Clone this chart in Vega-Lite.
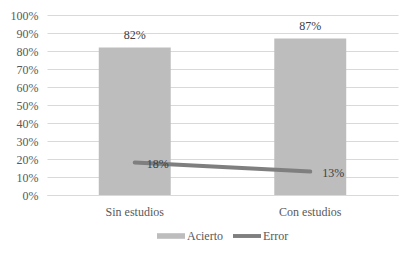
{
  "$schema": "https://vega.github.io/schema/vega-lite/v6.json",
  "width": 351,
  "height": 180,
  "autosize": {"type": "none"},
  "padding": {"left": 47, "top": 15, "right": 15, "bottom": 60},
  "background": "white",
  "data": {
    "values": [
      {"cat": "Sin estudios", "serie": "Acierto", "v": 0.82},
      {"cat": "Con estudios", "serie": "Acierto", "v": 0.87},
      {"cat": "Sin estudios", "serie": "Error", "v": 0.18},
      {"cat": "Con estudios", "serie": "Error", "v": 0.13}
    ]
  },
  "encoding": {
    "x": {
      "field": "cat", "type": "nominal", "sort": ["Sin estudios", "Con estudios"],
      "scale": {"paddingInner": 0.59, "paddingOuter": 0.295},
      "axis": {"title": null, "labelAngle": 0, "ticks": false, "domainColor": "#d9d9d9", "labelPadding": 11, "labelFont": "Liberation Serif", "labelFontSize": 12, "labelColor": "#595959"}
    },
    "y": {
      "field": "v", "type": "quantitative",
      "scale": {"domain": [0, 1], "nice": false},
      "axis": {"title": null, "format": ".0%", "values": [0, 0.1, 0.2, 0.3, 0.4, 0.5, 0.6, 0.7, 0.8, 0.9, 1], "domain": false, "ticks": false, "gridColor": "#d9d9d9", "labelPadding": 9, "labelFont": "Liberation Serif", "labelFontSize": 12, "labelColor": "#595959"}
    }
  },
  "layer": [
    {
      "transform": [{"filter": "datum.serie === 'Acierto'"}],
      "mark": {"type": "bar", "color": {"gradient": "linear", "x1": 0, "y1": 0, "x2": 0, "y2": 1, "stops": [{"offset": 0, "color": "#c6c6c6"}, {"offset": 1, "color": "#a3a3a3"}]}},
      "encoding": {
        "color": {
          "field": "serie", "type": "nominal",
          "scale": {"domain": ["Acierto", "Error"], "range": ["#bdbdbd", "#7f7f7f"]},
          "legend": {
            "title": null, "orient": "bottom", "direction": "horizontal", "offset": 5,
            "symbolType": "M-1,-0.2H1V0.2H-1Z", "symbolSize": 784,
            "labelFont": "Liberation Serif", "labelFontSize": 12, "labelColor": "#595959", "columnPadding": 10, "labelOffset": 2,
            "encode": {
              "symbols": {"update": {
                "shape": {"signal": "datum.value === 'Acierto' ? 'M-1,-0.2H1V0.2H-1Z' : 'M-1,-0.14H1V0.14H-1Z'"},
                "fill": {"scale": "color", "field": "value"},
                "strokeWidth": {"value": 0},
                "opacity": {"value": 1}
              }}
            }
          }
        }
      }
    },
    {
      "transform": [{"filter": "datum.serie === 'Error'"}],
      "mark": {"type": "line", "strokeWidth": 4, "strokeCap": "round"},
      "encoding": {
        "color": {"field": "serie", "type": "nominal"}
      }
    },
    {
      "transform": [{"filter": "datum.serie === 'Acierto'"}],
      "mark": {"type": "text", "baseline": "bottom", "dy": -5, "font": "Liberation Serif", "fontSize": 12, "color": "#404040"},
      "encoding": {"text": {"field": "v", "format": ".0%"}}
    },
    {
      "transform": [{"filter": "datum.serie === 'Error'"}],
      "mark": {"type": "text", "align": "left", "baseline": "middle", "dx": 12, "dy": 1, "font": "Liberation Serif", "fontSize": 12, "color": "#404040"},
      "encoding": {"text": {"field": "v", "format": ".0%"}}
    }
  ],
  "config": {
    "view": {"stroke": null},
    "font": "Liberation Serif",
    "legend": {"layout": {"bottom": {"anchor": "middle"}}}
  }
}
